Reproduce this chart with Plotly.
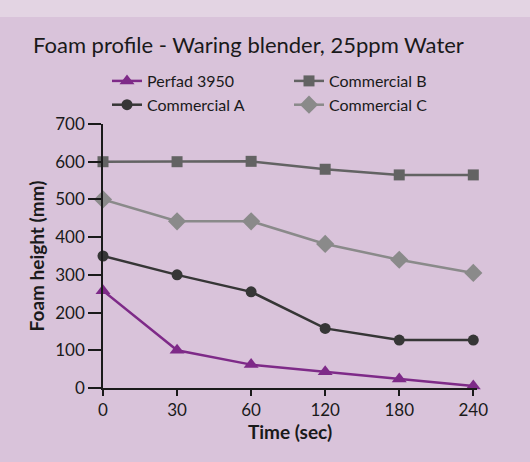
import plotly.graph_objects as go

time_labels = ["0", "30", "60", "120", "180", "240"]
perfad_3950 = [258, 100, 62, 43, 24, 5]
commercial_a = [350, 300, 255, 158, 127, 127]
commercial_b = [600, 600, 601, 580, 565, 565]
commercial_c = [500, 442, 442, 382, 340, 305]

FONT = "Lato"
fig = go.Figure()

series = [
    ("Perfad 3950", perfad_3950, "#7e2a88", "triangle-up", 13),
    ("Commercial B", commercial_b, "#636363", "square", 11),
    ("Commercial A", commercial_a, "#363636", "circle", 11),
    ("Commercial C", commercial_c, "#8a8a8a", "diamond", 14),
]
for name, vals, color, sym, size in series:
    fig.add_trace(go.Scatter(
        x=time_labels, y=vals, name=name, mode="lines+markers",
        line=dict(color=color, width=2.5),
        marker=dict(symbol=sym, size=size, color=color),
        cliponaxis=False,
    ))

PW, PH = 374, 264
fig.update_layout(
    width=530, height=462,
    paper_bgcolor="#d9c3da", plot_bgcolor="#d9c3da",
    margin=dict(l=103, r=53, t=124, b=74),
    font=dict(family=FONT, color="#1a1a1a", size=17),
    title=dict(text="Foam profile - Waring blender, 25ppm Water",
               x=33/530, xanchor="left", y=1-45/462, yanchor="middle",
               font=dict(family=FONT, size=22, color="#1a1a1a")),
    showlegend=True,
    legend=dict(orientation="h", x=(107-103)/PW, xanchor="left",
                y=1+(124-64)/PH, yanchor="top",
                entrywidth=137, entrywidthmode="pixels",
                bgcolor="rgba(0,0,0,0)", font=dict(size=16, family=FONT),
                tracegroupgap=0, itemwidth=30),
    shapes=[dict(type="rect", xref="paper", yref="paper", layer="below",
                 x0=-103/PW, x1=1+53/PW, y0=1+(124-17)/PH, y1=1+124/PH,
                 fillcolor="#e3d4e3", line=dict(width=0))],
)
fig.update_xaxes(
    type="category", range=[0, 5.05], showgrid=False, zeroline=False,
    showline=True, linecolor="#1a1a1a", linewidth=1.5,
    ticks="outside", ticklen=6, tickcolor="#1a1a1a", tickwidth=1.5,
    tickfont=dict(size=17, family=FONT),
    title=dict(text="<b>Time (sec)</b>", font=dict(size=19, family=FONT), standoff=2),
)
fig.update_yaxes(
    range=[0, 700], dtick=100, showgrid=False, zeroline=False,
    showline=True, linecolor="#1a1a1a", linewidth=1.5,
    ticks="outside", ticklen=13, tickcolor="#1a1a1a", tickwidth=1.5,
    tickfont=dict(size=17, family=FONT),
    title=dict(text="<b>Foam height (mm)</b>", font=dict(size=19, family=FONT), standoff=6),
)
fig.write_html("out.html", config={"displayModeBar": False},
               post_script="document.body.style.margin='0';document.body.style.overflow='hidden';")
